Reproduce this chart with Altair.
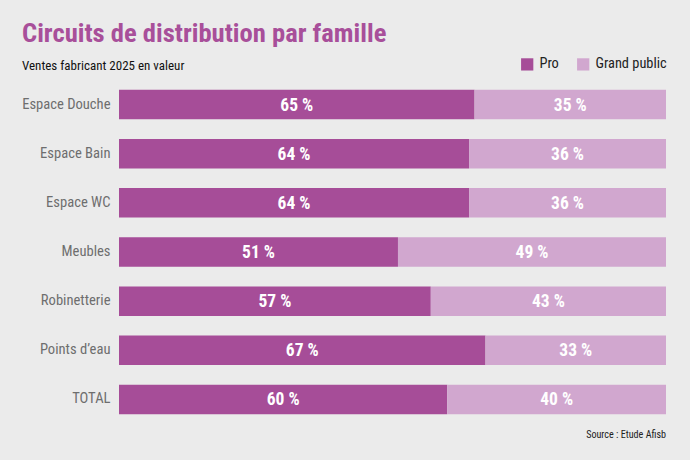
import altair as alt
import pandas as pd

categories = ["Espace Douche", "Espace Bain", "Espace WC", "Meubles", "Robinetterie", "Points d’eau", "TOTAL"]
pro = [65, 64, 64, 51, 57, 67, 60]
grand_public = [35, 36, 36, 49, 43, 33, 40]
series = ["Pro", "Grand public"]
colors = ["#a64d98", "#d1a7cf"]

rows = []
for c, p, g in zip(categories, pro, grand_public):
    rows.append({"cat": c, "serie": "Pro", "v": p, "start": 0, "end": p, "order": 0})
    rows.append({"cat": c, "serie": "Grand public", "v": g, "start": p, "end": p + g, "order": 1})
df = pd.DataFrame(rows)
df["mid"] = (df["start"] + df["end"]) / 2
df["label"] = df["v"].astype(str) + " %"

FONT = "Roboto Condensed, Liberation Sans Narrow, Roboto"

base = alt.Chart(df)
y = alt.Y("cat:N", sort=categories, title=None,
          scale=alt.Scale(paddingInner=0.4, paddingOuter=0.2),
          axis=alt.Axis(ticks=False, domain=False, labelFontSize=14.6, labelColor="#6e6e6e",
                        labelFont=FONT, labelPadding=9))

bars = base.mark_bar(cornerRadius=0).encode(
    x=alt.X("start:Q", scale=alt.Scale(domain=[0, 100]), axis=None),
    x2="end:Q",
    y=y,
    color=alt.Color("serie:N", scale=alt.Scale(domain=series, range=colors),
                    legend=alt.Legend(title=None, orient="none", direction="horizontal",
                                      legendX=401, legendY=-23, symbolType="square",
                                      symbolSize=150, symbolStrokeWidth=0, labelFontSize=14.4,
                                      labelFont=FONT, labelColor="#222222", columnPadding=17,
                                      labelOffset=5)),
)

labels = base.mark_text(color="white", fontSize=17.5, fontWeight="bold", font=FONT, dy=1).encode(
    x=alt.X("mid:Q"),
    y=alt.Y("cat:N", sort=categories),
    text="label:N",
)

source = alt.Chart(pd.DataFrame({"t": ["Source : Etude Afisb"]})).mark_text(
    align="right", baseline="middle", fontSize=10.1, font=FONT, color="#222222"
).encode(x=alt.value(547), y=alt.value(355), text="t:N")

chart = alt.layer(bars, labels, source).properties(
    width=547, height=344,
    background="#ebebeb",
    padding={"left": 119, "top": 80, "right": 24, "bottom": 36},
    autosize=alt.AutoSizeParams(type="none"),
    title=alt.Title("Circuits de distribution par famille",
                    subtitle="Ventes fabricant 2025 en valeur",
                    anchor="start", frame="group", dx=-97, dy=24, offset=8,
                    fontSize=26.6, font=FONT, fontWeight="bold", color="#a84f9a",
                    subtitleFontSize=13, subtitleFont=FONT, subtitleColor="#111111",
                    subtitlePadding=12),
).configure_view(stroke=None)

chart.save("out.html", embed_options={"renderer": "svg", "actions": False})
